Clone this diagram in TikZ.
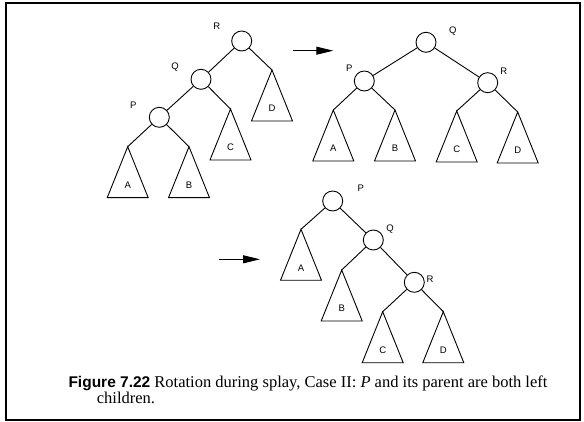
\documentclass[tikz,border=0pt]{standalone}
\usepackage{fontspec}
\setmainfont{Liberation Serif}
\setsansfont{Liberation Sans}
\usetikzlibrary{arrows.meta,calc}

\tikzset{
  vertex/.style={circle,draw,line width=0.9pt,minimum size=20pt,inner sep=0pt},
  edge/.style={line width=0.9pt},
  tri/.style={line width=0.9pt,line join=miter},
  lbl/.style={font=\sffamily\fontsize{9.5}{10}\selectfont,inner sep=0pt},
  move/.style={line width=0.9pt,-{Triangle[length=17pt,width=8pt]}},
  captext/.style={anchor=base west,inner sep=0pt,font=\fontsize{16.5}{16.5}\selectfont}
}
% subtree triangle hanging from its apex #1 at position #2, labelled #3
\newcommand\subtri[3]{%
  \coordinate (#1) at (#2);
  \draw[tri] (#1) -- ++(-20.5,51) -- ++(41,0) -- cycle;
  \node[lbl] (#1l) at ($(#1)+(0,38.5)$) {#3};
}

\begin{document}
\begin{tikzpicture}[x=1pt,y=-1pt]
\useasboundingbox (0,0) rectangle (584,422);
\draw[line width=2pt] (6,3) rectangle (580,420);

% ---- before rotation
\node[vertex] (R1) at (241.7,41) {};
\node[vertex] (Q1) at (201,79.3) {};
\node[vertex] (P1) at (159.3,117.3) {};
\node[lbl] at (216.7,26.7) {R};
\node[lbl] at (175,67.3) {Q};
\node[lbl] at (133.3,105.7) {P};
\subtri{A1}{127.7,146.7}{A}
\subtri{B1}{189,146.7}{B}
\subtri{C1}{230.5,109}{C}
\subtri{D1}{272,70}{D}
\draw[edge] (R1) -- (Q1);
\draw[edge] (R1) -- (D1);
\draw[edge] (Q1) -- (P1);
\draw[edge] (Q1) -- (C1);
\draw[edge] (P1) -- (A1);
\draw[edge] (P1) -- (B1);

% ---- first arrow
\coordinate (m1s) at (293.3,50.7);
\coordinate (m1e) at (333.3,50.7);
\draw[move] (m1s) -- (m1e);

% ---- after single rotation
\node[vertex] (Q2) at (426,42.3) {};
\node[vertex] (P2) at (364.3,81) {};
\node[vertex] (R2) at (487.7,82.7) {};
\node[lbl] at (452.7,30.7) {Q};
\node[lbl] at (349.3,68.3) {P};
\node[lbl] at (503.7,71.7) {R};
\subtri{A2}{333.3,110}{A}
\subtri{B2}{395,110}{B}
\subtri{C2}{456.7,111}{C}
\subtri{D2}{517.7,112}{D}
\draw[edge] (Q2) -- (P2);
\draw[edge] (Q2) -- (R2);
\draw[edge] (P2) -- (A2);
\draw[edge] (P2) -- (B2);
\draw[edge] (R2) -- (C2);
\draw[edge] (R2) -- (D2);

% ---- second arrow
\coordinate (m2s) at (219.3,259.3);
\coordinate (m2e) at (260,259.3);
\draw[move] (m2s) -- (m2e);

% ---- after splay step
\node[vertex] (P3) at (332.7,201) {};
\node[vertex] (Q3) at (373.3,240) {};
\node[vertex] (R3) at (414.3,282.3) {};
\node[lbl] at (360.7,188.3) {P};
\node[lbl] at (390,229.3) {Q};
\node[lbl] at (430,279) {R};
\subtri{A3}{301,229.3}{A}
\subtri{B3}{341.7,270}{B}
\subtri{C3}{382.7,311.7}{C}
\subtri{D3}{443.3,311.7}{D}
\draw[edge] (P3) -- (A3);
\draw[edge] (P3) -- (Q3);
\draw[edge] (Q3) -- (B3);
\draw[edge] (Q3) -- (R3);
\draw[edge] (R3) -- (C3);
\draw[edge] (R3) -- (D3);

% ---- caption
\node[captext] (cap1) at (68.3,387.5) {{\sffamily\bfseries\fontsize{15.5}{16}\selectfont Figure 7.22}\ Rotation during splay, Case II: \textit{P} and its parent are both left};
\node[captext] (cap2) at (96.7,403.3) {children.};
\end{tikzpicture}
\end{document}
